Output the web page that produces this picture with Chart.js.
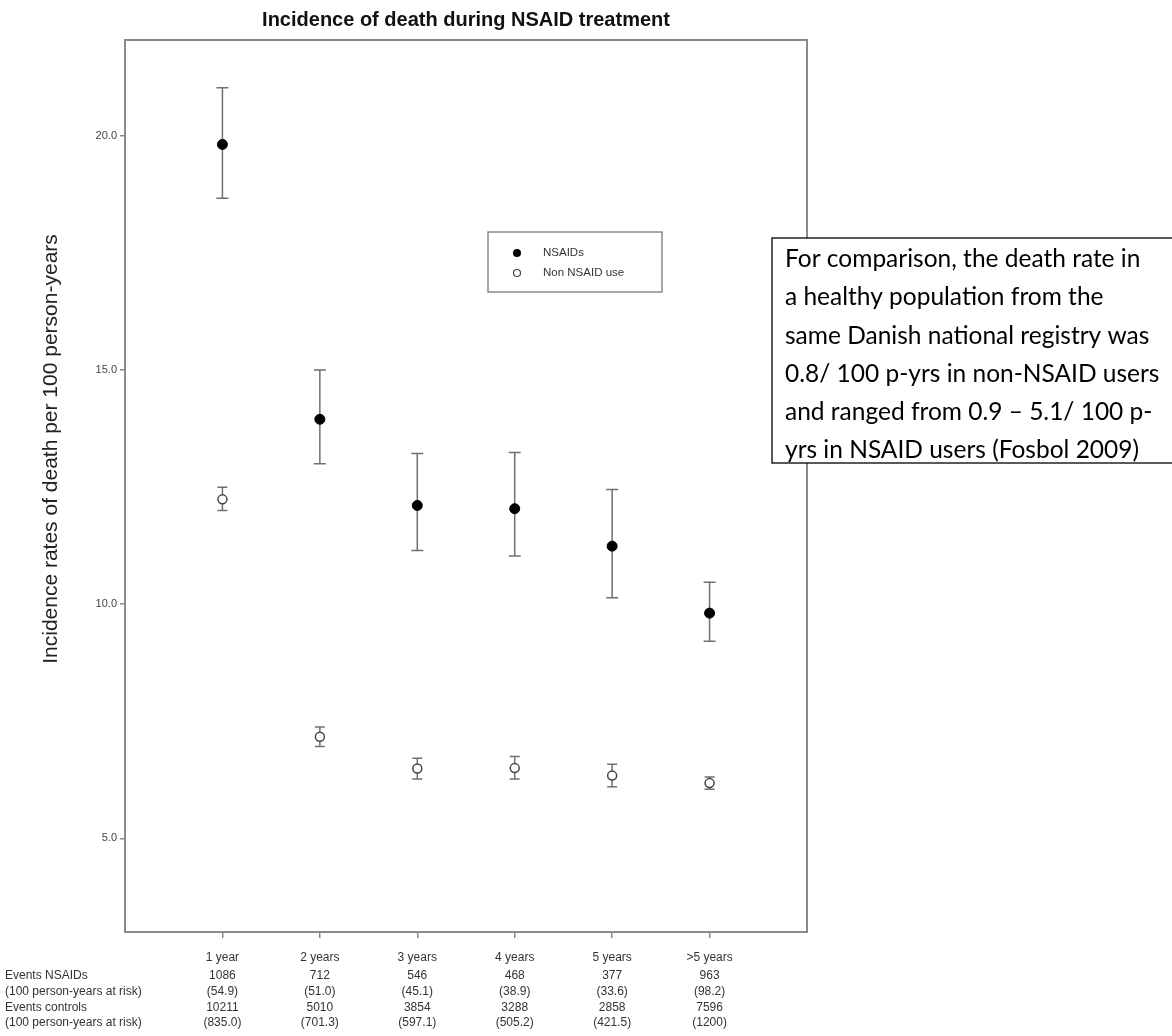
<!DOCTYPE html>
<html>
<head>
<meta charset="utf-8">
<title>Incidence of death during NSAID treatment</title>
<script src="https://cdn.jsdelivr.net/npm/chart.js@4.4.0/dist/chart.umd.min.js"></script>
<style>
  html, body { margin: 0; padding: 0; background: #fff; }
</style>
</head>
<body>
<canvas id="mycanvas" width="1172" height="1036"></canvas>
<script>
// data
var categories = ['1 year', '2 years', '3 years', '4 years', '5 years', '>5 years'];
var nsaidRate = [19.82, 13.95, 12.11, 12.04, 11.24, 9.81];
var nsaidLow  = [18.67, 13.00, 11.15, 11.03, 10.14, 9.21];
var nsaidHigh = [21.03, 15.00, 13.22, 13.24, 12.45, 10.47];
var ctrlRate  = [12.24, 7.17, 6.49, 6.50, 6.34, 6.18];
var ctrlLow   = [12.00, 6.96, 6.27, 6.27, 6.10, 6.05];
var ctrlHigh  = [12.50, 7.38, 6.71, 6.75, 6.58, 6.31];
var yTicks = [5, 10, 15, 20];

var tableLabels = ['Events NSAIDs', '(100 person-years at risk)', 'Events controls', '(100 person-years at risk)'];
var eventsNsaid = ['1086', '712', '546', '468', '377', '963'];
var pyNsaid = ['(54.9)', '(51.0)', '(45.1)', '(38.9)', '(33.6)', '(98.2)'];
var eventsCtrl = ['10211', '5010', '3854', '3288', '2858', '7596'];
var pyCtrl = ['(835.0)', '(701.3)', '(597.1)', '(505.2)', '(421.5)', '(1200)'];

var noteLines = [
    'For comparison, the death rate in',
    'a healthy population from the',
    'same Danish national registry was',
    '0.8/ 100 p-yrs in non-NSAID users',
    'and ranged from 0.9 \u2013 5.1/ 100 p-',
    'yrs in NSAID users (Fosbol 2009)'
];

function toPoints(vals) {
    var out = [];
    for (var i in vals) out.push({ x: Number(i), y: vals[i] });
    return out;
}

var ARIAL = '"Liberation Sans", Arial, sans-serif';

// box round the plot + error bars
var errorBars = {
    id: 'errorBars',
    beforeDatasetsDraw: function (chart) {
        var ctx = chart.ctx, a = chart.chartArea;
        var xs = chart.scales.x, ys = chart.scales.y;
        ctx.save();
        ctx.strokeStyle = '#8a8a8a';
        ctx.lineWidth = 2;
        ctx.strokeRect(a.left, a.top, a.right - a.left, a.bottom - a.top);

        var sets = [[nsaidLow, nsaidHigh, 6], [ctrlLow, ctrlHigh, 5]];
        ctx.strokeStyle = '#707070';
        ctx.lineWidth = 1.5;
        sets.forEach(function (s) {
            for (var i = 0; i < s[0].length; i++) {
                var x = xs.getPixelForValue(i);
                var y1 = ys.getPixelForValue(s[0][i]);
                var y2 = ys.getPixelForValue(s[1][i]);
                ctx.beginPath();
                ctx.moveTo(x, y1); ctx.lineTo(x, y2);
                ctx.moveTo(x - s[2], y1); ctx.lineTo(x + s[2], y1);
                ctx.moveTo(x - s[2], y2); ctx.lineTo(x + s[2], y2);
                ctx.stroke();
            }
        });
        ctx.restore();
    }
};

// title, axis title, legend, table and the note box
var extras = {
    id: 'extras',
    afterDraw: function (chart) {
        var ctx = chart.ctx, a = chart.chartArea;
        var xs = chart.scales.x;
        ctx.save();

        ctx.fillStyle = '#111';
        ctx.font = 'bold 20px ' + ARIAL;
        ctx.textAlign = 'center';
        ctx.textBaseline = 'middle';
        ctx.fillText('Incidence of death during NSAID treatment', (a.left + a.right) / 2, 20);

        ctx.save();
        ctx.translate(51, 449);
        ctx.rotate(-Math.PI / 2);
        ctx.font = '21px ' + ARIAL;
        ctx.fillStyle = '#222';
        ctx.fillText('Incidence rates of death per 100 person-years', 0, 0);
        ctx.restore();

        // legend
        ctx.fillStyle = '#fff';
        ctx.fillRect(488, 232, 174, 60);
        ctx.strokeStyle = '#8a8a8a';
        ctx.lineWidth = 1.5;
        ctx.strokeRect(488, 232, 174, 60);
        ctx.beginPath();
        ctx.arc(517, 253, 4, 0, Math.PI * 2);
        ctx.fillStyle = '#000';
        ctx.fill();
        ctx.beginPath();
        ctx.arc(517, 273, 3.5, 0, Math.PI * 2);
        ctx.fillStyle = '#fff';
        ctx.fill();
        ctx.strokeStyle = '#444';
        ctx.lineWidth = 1.2;
        ctx.stroke();
        ctx.fillStyle = '#333';
        ctx.font = '11.5px ' + ARIAL;
        ctx.textAlign = 'left';
        ctx.fillText('NSAIDs', 543, 253);
        ctx.fillText('Non NSAID use', 543, 273);

        // table under the axis
        var rows = [eventsNsaid, pyNsaid, eventsCtrl, pyCtrl];
        ctx.font = '12px ' + ARIAL;
        ctx.fillStyle = '#333';
        for (var r = 0; r < rows.length; r++) {
            var y = 976 + r * 15.6;
            ctx.textAlign = 'left';
            ctx.fillText(tableLabels[r], 5, y);
            ctx.textAlign = 'center';
            for (var i = 0; i < rows[r].length; i++) {
                ctx.fillText(rows[r][i], xs.getPixelForValue(i), y);
            }
        }

        // note box on the right
        ctx.fillStyle = '#fff';
        ctx.fillRect(772, 238, 420, 225);
        ctx.strokeStyle = '#000';
        ctx.lineWidth = 1.3;
        ctx.strokeRect(772, 238, 420, 225);
        ctx.fillStyle = '#000';
        ctx.font = '24.5px Lato, "Open Sans", sans-serif';
        ctx.textAlign = 'left';
        for (var k = 0; k < noteLines.length; k++) {
            ctx.fillText(noteLines[k], 785, 259 + k * 38.3);
        }
        ctx.restore();
    }
};

var chartdata = {
    datasets: [{
        label: 'NSAIDs',
        data: toPoints(nsaidRate),
        backgroundColor: '#000',
        borderColor: '#000',
        pointRadius: 5,
        borderWidth: 1
    }, {
        label: 'Non NSAID use',
        data: toPoints(ctrlRate),
        backgroundColor: '#fff',
        borderColor: '#444',
        pointRadius: 4.5,
        borderWidth: 1.5
    }]
};

var ctx = document.getElementById('mycanvas');

var chart = new Chart(ctx, {
    type: 'scatter',
    data: chartdata,
    plugins: [errorBars, extras],
    options: {
        responsive: false,
        animation: false,
        layout: { padding: { top: 40, right: 365, bottom: 0, left: 0 } },
        plugins: {
            legend: { display: false },
            tooltip: { enabled: false },
            title: { display: false }
        },
        scales: {
            x: {
                type: 'linear',
                min: -1,
                max: 6,
                afterBuildTicks: function (scale) {
                    scale.ticks = categories.map(function (c, i) { return { value: i }; });
                },
                afterFit: function (scale) { scale.height = 104; },
                border: { display: false },
                grid: { drawOnChartArea: false, drawTicks: true, tickLength: 6, color: '#8a8a8a', lineWidth: 1.5 },
                ticks: {
                    autoSkip: false,
                    maxRotation: 0,
                    padding: 12,
                    color: '#333',
                    font: { family: ARIAL, size: 12 },
                    callback: function (v) { return categories[v]; }
                }
            },
            y: {
                min: 3,
                max: 22.05,
                afterBuildTicks: function (scale) {
                    scale.ticks = yTicks.map(function (v) { return { value: v }; });
                },
                afterFit: function (scale) { scale.width = 125; },
                border: { display: false },
                grid: { drawOnChartArea: false, drawTicks: true, tickLength: 5, color: '#8a8a8a', lineWidth: 1.5 },
                ticks: {
                    padding: 3,
                    color: '#444',
                    font: { family: ARIAL, size: 11 },
                    callback: function (v) { return v.toFixed(1); }
                }
            }
        }
    }
});
</script>
</body>
</html>
